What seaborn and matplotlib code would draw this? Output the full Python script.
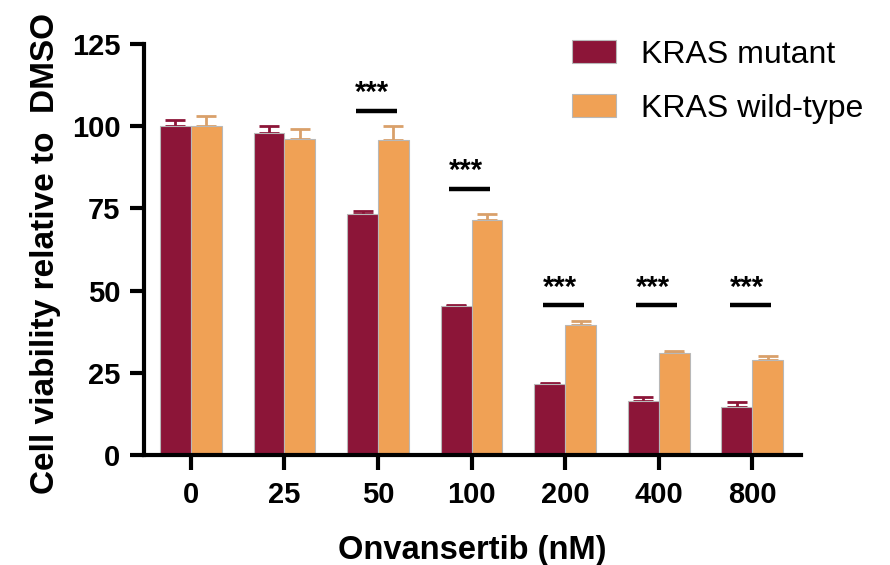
import numpy as np
import pandas as pd
import matplotlib
matplotlib.use("Agg")
import matplotlib.pyplot as plt
import seaborn as sns

# Onvansertib dose (nM) and mean viability (% of DMSO) for each cell group
doses = ["0", "25", "50", "100", "200", "400", "800"]
groups = ["KRAS mutant", "KRAS wild-type"]
mutant_mean = [100.0, 98.0, 73.3, 45.2, 21.5, 16.3, 14.7]
mutant_err = [1.8, 2.0, 1.0, 0.5, 0.3, 1.3, 1.4]
wildtype_mean = [100.0, 96.0, 95.7, 71.6, 39.6, 31.0, 29.0]
wildtype_err = [3.0, 3.0, 4.3, 1.8, 1.3, 0.7, 1.2]

# Significance brackets: dose label, bracket height
sig_doses = ["50", "100", "200", "400", "800"]
sig_heights = [104.7, 81.0, 45.6, 45.6, 45.6]
sig_text = "***"

colors = {"KRAS mutant": "#8C1538", "KRAS wild-type": "#F0A155"}
err_colors = {"KRAS mutant": "#8C1538", "KRAS wild-type": "#D9A06A"}

df = pd.DataFrame({
    "dose": doses * 2,
    "group": [groups[0]] * len(doses) + [groups[1]] * len(doses),
    "viability": mutant_mean + wildtype_mean,
    "err": mutant_err + wildtype_err,
})

sns.set_style("white")
plt.rcParams["font.family"] = ["Liberation Sans", "DejaVu Sans"]
plt.rcParams["text.color"] = "black"
plt.rcParams["axes.labelcolor"] = "black"
plt.rcParams["xtick.color"] = "black"
plt.rcParams["ytick.color"] = "black"

fig = plt.figure(figsize=(8.9, 5.65), dpi=100)
ax = fig.add_axes([144 / 890, 1 - 455 / 565, (801 - 144) / 890, (455 - 44) / 565])

sns.barplot(data=df, x="dose", y="viability", hue="group", order=doses,
            hue_order=groups, palette=colors, saturation=1, width=0.66,
            errorbar=None, edgecolor="#B8B8B8", linewidth=0.8, ax=ax, zorder=2)

# upward error bars at each bar's centre
n = len(doses)
for gi, g in enumerate(groups):
    sub = df[df["group"] == g].set_index("dose").loc[doses]
    patches = ax.patches[gi * n:(gi + 1) * n]
    xs = [p.get_x() + p.get_width() / 2 for p in patches]
    ax.errorbar(xs, sub["viability"].values,
                yerr=[np.zeros(n), sub["err"].values],
                fmt="none", ecolor=err_colors[g], elinewidth=2.0,
                capsize=7.5, capthick=2.0, zorder=1)

# significance markers
for d, h in zip(sig_doses, sig_heights):
    xi = doses.index(d)
    ax.plot([xi - 0.24, xi + 0.2], [h, h], color="black", lw=3.2,
            solid_capstyle="butt", zorder=3)
    ax.text(xi - 0.06, h + 2.9, sig_text, ha="center", va="baseline",
            fontsize=21, fontweight="bold")

ax.set_ylim(0, 125)
ax.set_xlim(-0.5, 6.52)
ax.set_yticks([0, 25, 50, 75, 100, 125])

for s in ["top", "right"]:
    ax.spines[s].set_visible(False)
for s in ["left", "bottom"]:
    ax.spines[s].set_linewidth(3.0)
    ax.spines[s].set_color("black")

ax.tick_params(axis="y", which="major", length=10, width=3.0,
               color="black", labelsize=21, pad=7, left=True)
ax.tick_params(axis="x", which="major", length=11, width=3.0,
               color="black", labelsize=21, pad=8, bottom=True)
for lab in ax.get_xticklabels() + ax.get_yticklabels():
    lab.set_fontweight("bold")

ax.set_xlabel("Onvansertib (nM)", fontsize=23.5, fontweight="bold")
ax.set_ylabel("Cell viability relative to  DMSO", fontsize=24, fontweight="bold")
ax.xaxis.set_label_coords(0.5, -0.195)
ax.yaxis.set_label_coords(-0.126, 0.49)

leg = ax.legend(loc="upper left", bbox_to_anchor=(572 / 890, 1 - 40 / 565),
                bbox_transform=fig.transFigure, frameon=False, fontsize=23,
                handlelength=1.375, handleheight=0.72, handletextpad=0.8,
                labelspacing=0.75, borderpad=0, borderaxespad=0)
for h in leg.legend_handles:
    h.set_edgecolor("#B8B8B8")

fig.savefig("out.png", dpi=100)
